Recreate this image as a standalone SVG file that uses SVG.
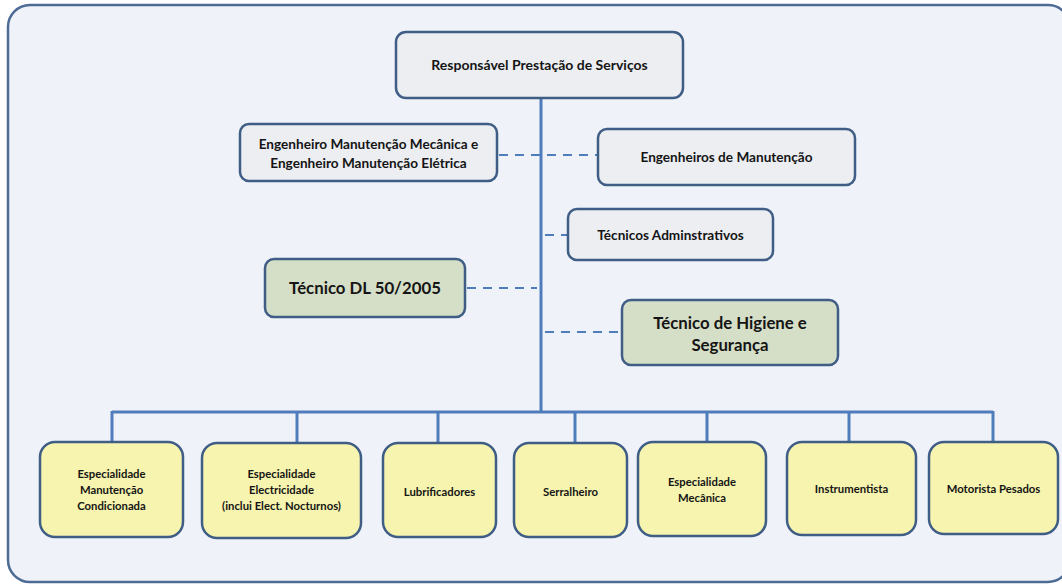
<svg xmlns="http://www.w3.org/2000/svg" width="1062" height="585" viewBox="0 0 1062 585">
  <style>
    .frame { fill: #eff3f9; stroke: #4d6b95; stroke-width: 2.5; }
    .box { stroke: #3f5d85; stroke-width: 2.5; }
    .grey { fill: #eceef2; }
    .green { fill: #d5dec6; }
    .yellow { fill: #f6f4ae; }
    .solid { stroke: #4f7dbb; stroke-width: 3; fill: none; }
    .dash { stroke: #4f7dbb; stroke-width: 2; stroke-dasharray: 9 7; fill: none; }
    text { font-family: Lato, "Open Sans", "Liberation Sans", sans-serif; font-weight: bold; fill: #151515; text-anchor: middle; }
    .t13 { font-size: 14px; }
    .t12 { font-size: 13.6px; }
    .t16 { font-size: 16.8px; }
    .t10 { font-size: 11.3px; }
  </style>

  <rect class="frame" x="8" y="5" width="1062" height="577" rx="22"/>

  <!-- connectors -->
  <g id="connectors">
    <line class="solid" x1="541" y1="98" x2="541" y2="413"/>
    <line class="solid" x1="112" y1="412" x2="993" y2="412"/>
    <line class="solid" x1="112" y1="411" x2="112" y2="442"/>
    <line class="solid" x1="297" y1="411" x2="297" y2="442"/>
    <line class="solid" x1="438" y1="411" x2="438" y2="442"/>
    <line class="solid" x1="575" y1="411" x2="575" y2="442"/>
    <line class="solid" x1="707" y1="411" x2="707" y2="442"/>
    <line class="solid" x1="849" y1="411" x2="849" y2="442"/>
    <line class="solid" x1="993" y1="411" x2="993" y2="442"/>
    <line class="dash" x1="499" y1="155" x2="598" y2="155"/>
    <line class="dash" x1="545" y1="235" x2="568" y2="235"/>
    <line class="dash" x1="467" y1="288" x2="537" y2="288"/>
    <line class="dash" x1="545" y1="332" x2="622" y2="332"/>
  </g>

  <g id="responsavel">
    <rect class="box grey" x="396" y="32" width="287" height="66" rx="10"/>
    <text class="t13" x="539.5" y="70">Responsável Prestação de Serviços</text>
  </g>

  <g id="eng-mec-ele">
    <rect class="box grey" x="240" y="124" width="257" height="57" rx="9"/>
    <text class="t12" x="368.5" y="148.5">Engenheiro Manutenção Mecânica e</text>
    <text class="t12" x="368.5" y="167.5">Engenheiro Manutenção Elétrica</text>
  </g>

  <g id="eng-manutencao">
    <rect class="box grey" x="598" y="129" width="257" height="56" rx="9"/>
    <text class="t12" x="726.5" y="161.5">Engenheiros de Manutenção</text>
  </g>

  <g id="tec-admin">
    <rect class="box grey" x="568" y="209" width="205" height="51" rx="9"/>
    <text class="t12" x="670.5" y="239.5">Técnicos Adminstrativos</text>
  </g>

  <g id="tec-dl">
    <rect class="box green" x="265" y="259" width="200" height="58" rx="9"/>
    <text class="t16" x="365" y="294">Técnico DL 50/2005</text>
  </g>

  <g id="tec-higiene">
    <rect class="box green" x="622" y="300" width="216" height="65" rx="9"/>
    <text class="t16" x="730" y="329">Técnico de Higiene e</text>
    <text class="t16" x="730" y="351">Segurança</text>
  </g>

  <g id="esp-condicionada">
    <rect class="box yellow" x="40" y="442" width="143" height="95" rx="15"/>
    <text class="t10" x="111.5" y="478">Especialidade</text>
    <text class="t10" x="111.5" y="494">Manutenção</text>
    <text class="t10" x="111.5" y="510">Condicionada</text>
  </g>

  <g id="esp-electricidade">
    <rect class="box yellow" x="202" y="443" width="159" height="95" rx="15"/>
    <text class="t10" x="281.5" y="478">Especialidade</text>
    <text class="t10" x="281.5" y="494">Electricidade</text>
    <text class="t10" x="281.5" y="510">(inclui Elect. Nocturnos)</text>
  </g>

  <g id="lubrificadores">
    <rect class="box yellow" x="383" y="443" width="113" height="94" rx="15"/>
    <text class="t10" x="439.5" y="495.5">Lubrificadores</text>
  </g>

  <g id="serralheiro">
    <rect class="box yellow" x="514" y="443" width="113" height="94" rx="15"/>
    <text class="t10" x="570.5" y="495.5">Serralheiro</text>
  </g>

  <g id="esp-mecanica">
    <rect class="box yellow" x="638" y="442" width="128" height="94" rx="15"/>
    <text class="t10" x="702" y="486">Especialidade</text>
    <text class="t10" x="702" y="502">Mecânica</text>
  </g>

  <g id="instrumentista">
    <rect class="box yellow" x="787" y="442" width="129" height="93" rx="15"/>
    <text class="t10" x="851.5" y="493">Instrumentista</text>
  </g>

  <g id="motorista">
    <rect class="box yellow" x="929" y="442" width="129" height="92" rx="15"/>
    <text class="t10" x="993.5" y="493">Motorista Pesados</text>
  </g>
</svg>
